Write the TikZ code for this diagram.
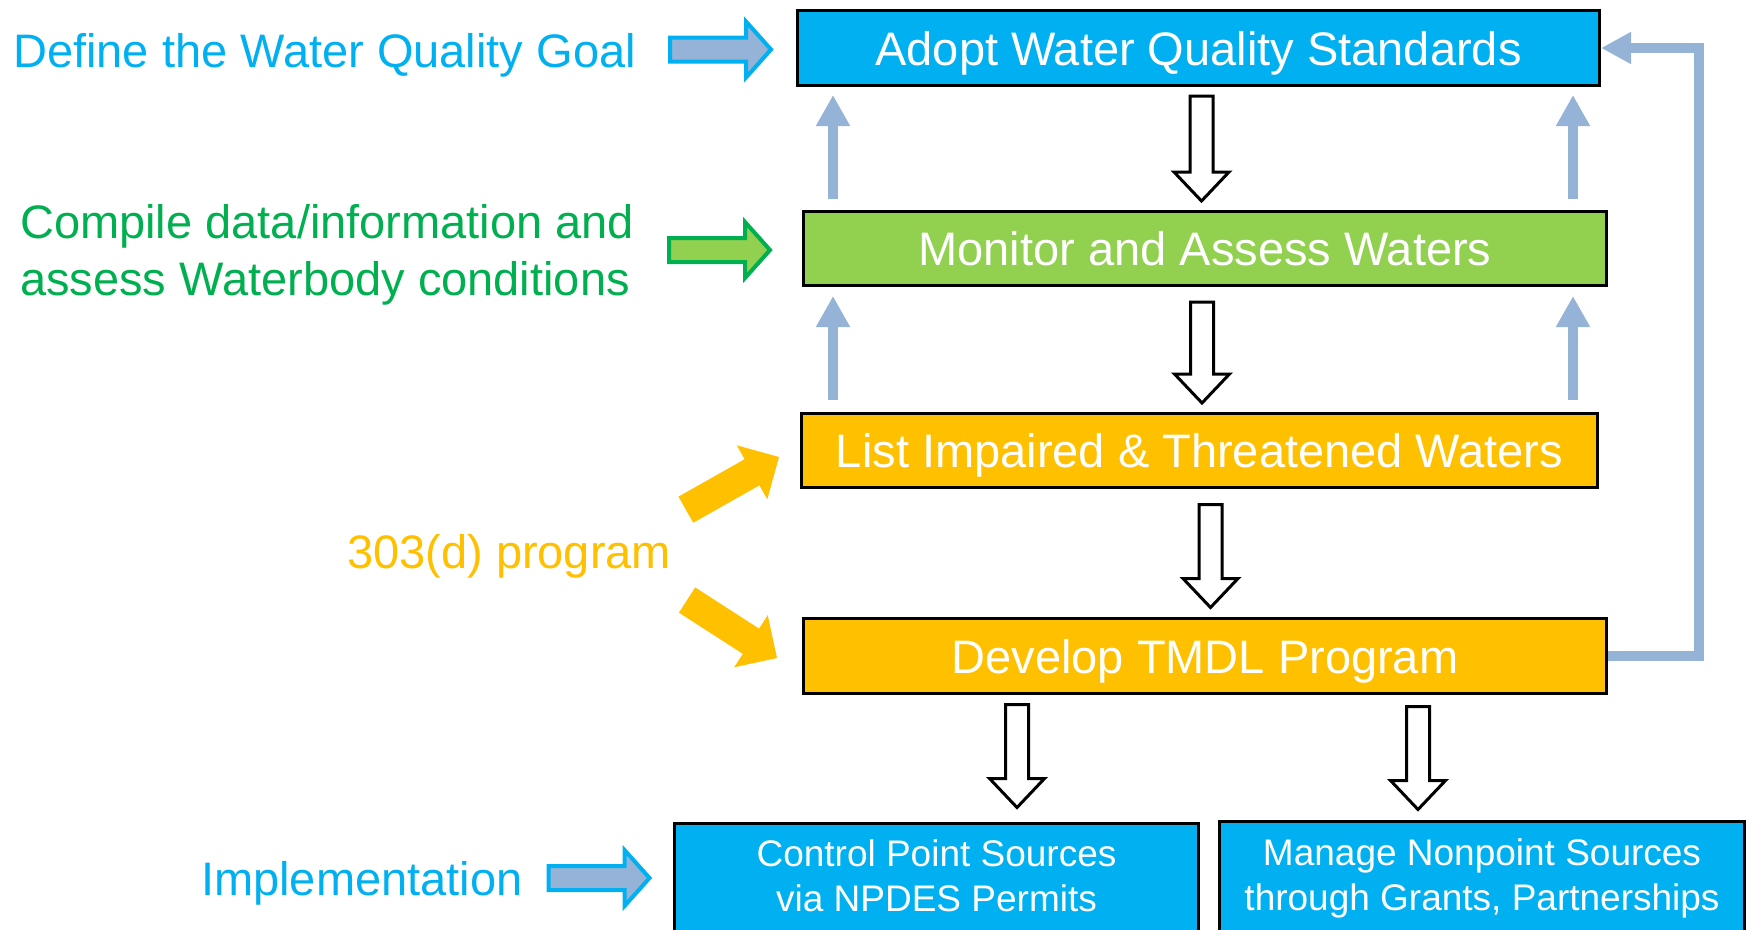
\documentclass[tikz,border=0pt]{standalone}
\usepackage{fontspec}
\setmainfont{Liberation Sans}
\usetikzlibrary{calc,arrows.meta}

\definecolor{wqcyan}{HTML}{00B0F0}
\definecolor{wqgreen}{HTML}{92D050}
\definecolor{wqdkgreen}{HTML}{00B050}
\definecolor{wqamber}{HTML}{FFC000}
\definecolor{wqsteel}{HTML}{95B3D7}

% hollow downward block arrow: #1 = start (x and top), #2 = end (tip height)
\newcommand\hollowarrow[2]{%
  \draw[hollowflow] let \p1=#1, \p2=#2 in
    (\x1-11.5pt,\y1) -- (\x1-11.5pt,\y2+29pt) -- (\x1-27.5pt,\y2+29pt) --
    (\x1,\y2) -- (\x1+27.5pt,\y2+29pt) -- (\x1+11.5pt,\y2+29pt) --
    (\x1+11.5pt,\y1) -- cycle;}
% horizontal block arrow with its tip at #2, drawn in style #1
\newcommand\sidearrow[2]{%
  \draw[#1, shift={#2}] (-101,-12) -- (-25,-12) -- (-25,-28) -- (0,0) --
    (-25,28) -- (-25,12) -- (-101,12) -- cycle;}
% solid slanted arrow with its tip at #1, rotated by #2 degrees
\newcommand\fatarrow[2]{%
  \fill[wqamber, shift={#1}, rotate=#2] (-107,-15) -- (-31,-15) -- (-31,-31) --
    (0,0) -- (-31,31) -- (-31,15) -- (-107,15) -- cycle;}

\begin{document}
\begin{tikzpicture}[x=1pt,y=-1pt,
  stage/.style={draw=black, line width=3pt, text=white, inner sep=0pt,
    font=\fontsize{47}{56}\selectfont, text height=34pt, text depth=0pt},
  action/.style={draw=black, line width=3pt, fill=wqcyan, inner sep=0pt,
    minimum height=140pt},
  actiontext/.style={text=white, inner sep=0pt, align=center,
    font=\fontsize{37}{45}\selectfont},
  lbl/.style={inner sep=0pt, font=\fontsize{47}{57}\selectfont},
  hollowflow/.style={draw=black, fill=white, line width=3pt, line join=miter},
  feedback/.style={draw=wqsteel, line width=10pt,
    -{Triangle[width=32pt,length=31pt]}},
  goalarrow/.style={draw=wqcyan, fill=wqsteel, line width=4pt},
  datarrow/.style={draw=wqdkgreen, fill=wqgreen, line width=4pt},
]
\useasboundingbox (0,0) rectangle (1752,929);
\fill[white] (0,0) rectangle (1752,929);
\clip (0,0) rectangle (1752,929);

% process stages
\node[stage, fill=wqcyan, minimum width=802pt, minimum height=75pt]
  (adopt) at (1198.5,48) {Adopt Water Quality Standards};
\node[stage, fill=wqgreen, minimum width=803pt, minimum height=74pt]
  (monitor) at (1205,248.5) {Monitor and Assess Waters};
\node[stage, fill=wqamber, minimum width=796pt, minimum height=74pt]
  (list) at (1199.5,450.5) {List Impaired \& Threatened Waters};
\node[stage, fill=wqamber, minimum width=803pt, minimum height=75pt]
  (develop) at (1205,656) {Develop TMDL Program};

% implementation boxes (the last line's baseline sets the text position)
\node[action, minimum width=524pt] (control) at (936.5,893.5) {};
\node[action, minimum width=525pt] (manage) at (1482,891.5) {};
\node[actiontext, anchor=base] (controltext) at ($(control.north)+(0,89.5)$)
  {Control Point Sources\\via NPDES Permits};
\node[actiontext, anchor=base] (managetext) at ($(manage.north)+(0,90.5)$)
  {Manage Nonpoint Sources\\through Grants, Partnerships};

% side labels
\node[lbl, text=wqcyan, anchor=base west] (goal) at (13,67)
  {Define the Water Quality Goal};
\node[lbl, text=wqdkgreen, align=left, anchor=base west] (compile) at (20,295)
  {Compile data/information and\\assess Waterbody conditions};
\node[lbl, text=wqamber, anchor=base west] (program) at (347,568)
  {303(d) program};
\node[lbl, text=wqcyan, anchor=base west] (impl) at (201,895)
  {Implementation};

% downward flow
\hollowarrow{($(adopt.south)+(3,9)$)}{($(monitor.north)+(0,-9)$)}
\hollowarrow{($(monitor.south)+(-3,15)$)}{($(list.north)+(0,-9)$)}
\hollowarrow{($(list.south)+(11,15.5)$)}{($(develop.north)+(0,-9.5)$)}
\hollowarrow{($(develop.south)+(-188,9.5)$)}{($(control.north)+(0,-14.5)$)}
\hollowarrow{($(develop.south)+(213,11.5)$)}{($(manage.north)+(0,-10.5)$)}

% upward feedback
\coordinate (upl) at (833,0);
\coordinate (upr) at (1573,0);
\coordinate (loop) at (1699,0);
\draw[feedback, shorten <=11pt, shorten >=8pt] (upl |- monitor.north) -- (upl |- adopt.south);
\draw[feedback, shorten <=11pt, shorten >=8pt] (upr |- monitor.north) -- (upr |- adopt.south);
\draw[feedback, shorten <=12pt, shorten >=9pt] (upl |- list.north) -- (upl |- monitor.south);
\draw[feedback, shorten <=12pt, shorten >=9pt] (upr |- list.north) -- (upr |- monitor.south);
\draw[feedback, -{Triangle[width=30pt,length=30pt]}]
  (develop.east) -- (develop.east -| loop) -- (loop |- adopt.east) -- (adopt.east);

% label arrows
\sidearrow{goalarrow}{($(adopt.west)+(-25,1.5)$)}
\sidearrow{datarrow}{($(monitor.west)+(-32,1.5)$)}
\sidearrow{goalarrow}{($(control.west)+(-23.5,-15.5)$)}
\fatarrow{($(list.west)+(-21,6.5)$)}{29.5}
\fatarrow{($(develop.west)+(-25,2)$)}{-32.8}
\end{tikzpicture}
\end{document}
